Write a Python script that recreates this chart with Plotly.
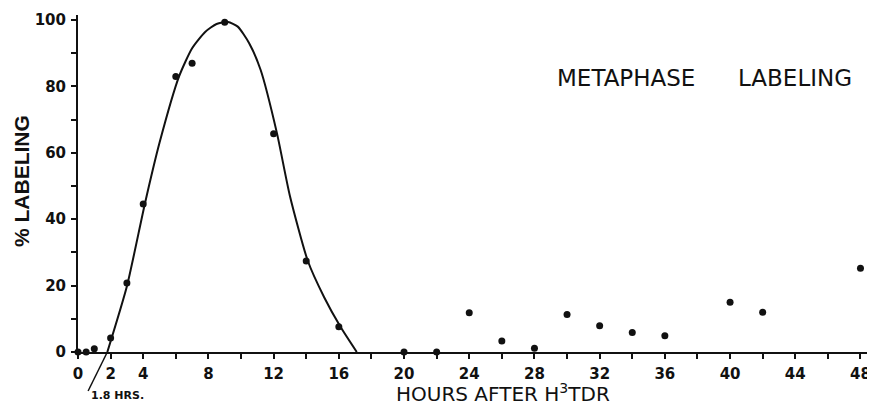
import plotly.graph_objects as go

# Measured data points (hours after H3TdR, % labeled metaphases)
hours = [0, 0.5, 1, 2, 3, 4, 6, 7, 9, 12, 14, 16, 20, 22, 24, 26, 28, 30, 32, 34, 36, 40, 42, 48]
labeling = [0, 0, 1, 4.2, 20.8, 44.6, 83, 87, 99.3, 65.7, 27.4, 7.6, 0, 0, 11.8, 3.3, 1.1, 11.3, 7.9, 5.9, 4.9, 15, 12, 25.2]

# Hand-drawn fitted curve
curve_hours = [1.8, 3.0, 4.1, 5.0, 6.2, 7.0, 7.8, 8.5, 9.2, 9.8, 10.5, 11.2, 12.2, 13.0, 14.1, 15.1, 16.1, 17.1]
curve_pct = [0, 19.8, 44.6, 63, 83, 91.5, 96.4, 98.8, 99.4, 98, 93, 85, 66, 47, 27.4, 16.5, 7.6, 0]

x_ticks = list(range(0, 49, 2))
x_labels = [str(v) if v in (0, 2, 4) or v % 4 == 0 else "" for v in x_ticks]
y_ticks = list(range(0, 101, 10))
y_labels = [str(v) if v % 20 == 0 else "" for v in y_ticks]

ink = "#111111"
tick_font = dict(family="DejaVu Sans", size=15, color=ink, weight="bold")

# page body adds an 8px margin on each side; size the figure so the page does not scroll
OFF = 8
W, H = 875 - 2 * OFF, 413 - 2 * OFF
ML, MR, MT, MB = 78 - OFF, 0, 15 - OFF, H - (352 - OFF)


def py(y):
    """window pixel row -> paper y"""
    return (H - MB - (y - OFF)) / (H - MT - MB)


def pxx(x):
    """window pixel column -> paper x"""
    return (x - OFF - ML) / (W - ML - MR)


fig = go.Figure()
fig.add_trace(go.Scatter(
    x=curve_hours, y=curve_pct, mode="lines",
    line=dict(color=ink, width=2, shape="spline", smoothing=0.6),
    hoverinfo="skip", showlegend=False, cliponaxis=False,
))
fig.add_trace(go.Scatter(
    x=hours, y=labeling, mode="markers",
    marker=dict(color=ink, size=7),
    showlegend=False, cliponaxis=False,
))

ann = []
for text, x, y, size, fam, weight, angle in [
    ("METAPHASE", 626, 78, 23, "DejaVu Sans", "normal", 0),
    ("LABELING", 795, 78, 23, "DejaVu Sans", "normal", 0),
    ("HOURS AFTER H<sup>3</sup>TDR", 503, 393, 20, "DejaVu Sans", "normal", 0),
    ("% LABELING", 21, 181, 21, "Liberation Sans", "bold", -90),
]:
    ann.append(dict(text=text, x=pxx(x), y=py(y), xref="paper", yref="paper", textangle=angle,
                    xanchor="center", yanchor="middle",
                    showarrow=False, font=dict(family=fam, size=size, color=ink, weight=weight)))
ann.append(dict(text="1.8 HRS.", x=0.7, y=py(395), xref="x", yref="paper", xanchor="left", yanchor="middle",
                showarrow=False, font=dict(family="DejaVu Sans", size=11, color=ink, weight="bold")))

fig.update_layout(
    width=W, height=H,
    margin=dict(l=ML, r=MR, t=MT, b=MB, autoexpand=False),
    paper_bgcolor="white", plot_bgcolor="white",
    xaxis=dict(
        range=[0, 48.4], tickmode="array", tickvals=x_ticks, ticktext=x_labels,
        showgrid=False, zeroline=False, showline=True, linecolor=ink, linewidth=2,
        ticks="outside", ticklen=5, tickwidth=1.5, tickcolor=ink,
        tickfont=tick_font, ticklabelstandoff=2, automargin=False,
        ticklabeloverflow="allow",
    ),
    yaxis=dict(
        range=[0, 101.5], tickmode="array", tickvals=y_ticks, ticktext=y_labels,
        showgrid=False, zeroline=False, showline=True, linecolor=ink, linewidth=2,
        ticks="outside", ticklen=5, tickwidth=1.5, tickcolor=ink,
        tickfont=tick_font, ticklabelstandoff=2, automargin=False,
    ),
    annotations=ann,
    shapes=[
        dict(type="line", xref="x", yref="paper", x0=1.8, x1=0.62, y0=0, y1=py(391),
             line=dict(color=ink, width=1.5)),
    ],
)

fig.write_html("out.html")
